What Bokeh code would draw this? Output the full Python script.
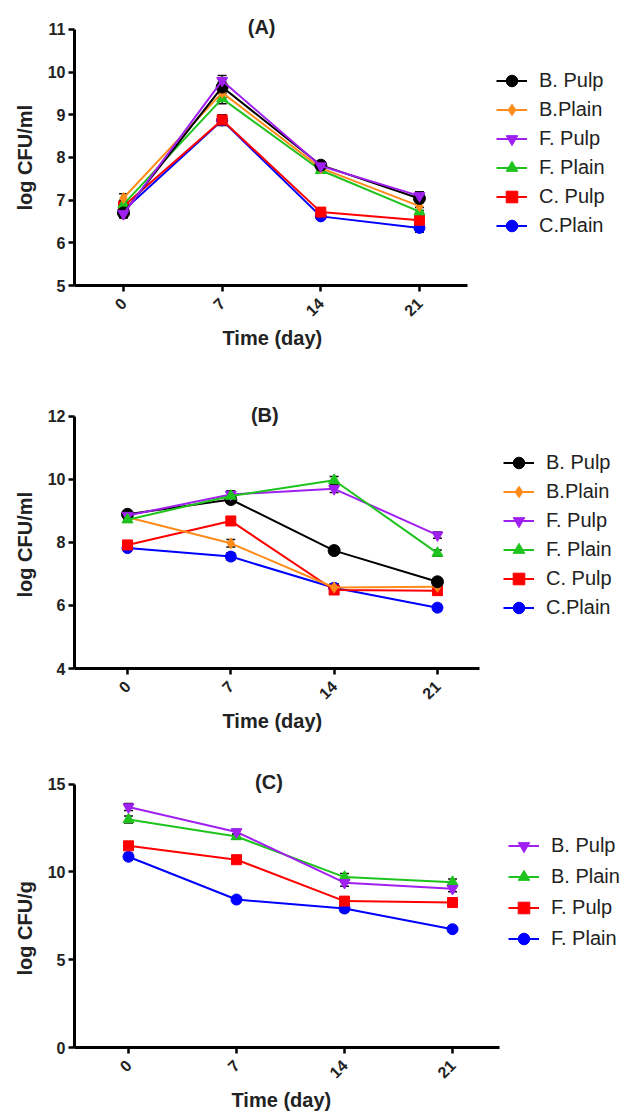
from math import pi
from bokeh.plotting import figure
from bokeh.models import (Range1d, FixedTicker, Legend, LegendItem, Label, Title,
                          Whisker, ColumnDataSource, TeeHead)
from bokeh.layouts import column
from bokeh.embed import file_html
from bokeh.resources import INLINE

days = [0, 7, 14, 21]

# ---------- Panel A data ----------
a_b_pulp = [6.70, 9.65, 7.82, 7.04]
a_b_plain = [7.05, 9.52, 7.75, 6.86]
a_f_pulp = [6.68, 9.80, 7.80, 7.10]
a_f_plain = [6.90, 9.38, 7.70, 6.73]
a_c_pulp = [6.86, 8.88, 6.72, 6.53]
a_c_plain = [6.76, 8.87, 6.62, 6.35]
a_err = [0.10, 0.12, 0.06, 0.10]

# ---------- Panel B data ----------
b_b_pulp = [8.89, 9.36, 7.74, 6.75]
b_b_plain = [8.80, 7.97, 6.57, 6.59]
b_f_pulp = [8.85, 9.52, 9.70, 8.23]
b_f_plain = [8.72, 9.47, 9.97, 7.66]
b_c_pulp = [7.92, 8.68, 6.49, 6.47]
b_c_plain = [7.82, 7.55, 6.56, 5.93]
b_err = [0.08, 0.12, 0.12, 0.10]

# ---------- Panel C data ----------
c_b_pulp = [13.70, 12.28, 9.39, 9.05]
c_b_plain = [12.99, 12.02, 9.71, 9.42]
c_f_pulp = [11.49, 10.70, 8.34, 8.26]
c_f_plain = [10.87, 8.43, 7.92, 6.74]
c_err = [0.20, 0.15, 0.20, 0.18]

FONT = "Liberation Sans"
LEFT = 74
WIDTH = 626
RIGHT = 1


def make_fig(height, top, bottom, xr, xbound_end, yr, ybounds, yticks,
             ylabel, ylabel_offset, xlabel_offset):
    p = figure(width=WIDTH, height=height, min_border_left=LEFT, min_border_right=RIGHT,
               min_border_top=top, min_border_bottom=bottom,
               x_range=Range1d(*xr), y_range=Range1d(*yr),
               output_backend="svg", toolbar_location=None)
    p.grid.visible = False
    p.outline_line_color = None
    p.background_fill_color = "white"
    p.border_fill_color = "white"
    p.xaxis.ticker = FixedTicker(ticks=days)
    p.yaxis.ticker = FixedTicker(ticks=yticks)
    p.xaxis.bounds = (xr[0], xbound_end)
    p.yaxis.bounds = ybounds
    p.xaxis.major_label_orientation = pi / 4
    for ax in (p.xaxis[0], p.yaxis[0]):
        ax.axis_line_width = 3
        ax.axis_line_color = "black"
        ax.major_tick_line_width = 2.5
        ax.major_tick_line_color = "black"
        ax.major_tick_in = 0
        ax.major_tick_out = 6
        ax.minor_tick_line_color = None
        ax.major_label_text_font = FONT
        ax.major_label_text_font_style = "bold"
        ax.major_label_text_font_size = "16px"
        ax.major_label_text_color = "#222222"
    p.xaxis.major_label_standoff = 9
    p.yaxis.major_label_standoff = 3
    p.add_layout(Title(text="Time (day)", align="left", offset=xlabel_offset,
                       vertical_align="top", standoff=4, text_font=FONT,
                       text_font_style="bold", text_font_size="20px",
                       text_color="#222222"), "below")
    p.add_layout(Title(text=ylabel, align="left", offset=ylabel_offset,
                       standoff=18, text_font=FONT,
                       text_font_style="bold", text_font_size="20px",
                       text_color="#222222"), "left")
    return p


def add_series(p, ys, err, color, marker, size):
    src = ColumnDataSource(dict(x=days, y=ys,
                                upper=[v + e for v, e in zip(ys, err)],
                                lower=[v - e for v, e in zip(ys, err)]))
    lr = p.line("x", "y", source=src, line_color=color, line_width=2)
    sr = p.scatter("x", "y", source=src, marker=marker, size=size,
                   fill_color=color, line_color=color)
    w = Whisker(base="x", upper="upper", lower="lower", source=src,
                line_color="#111111", line_width=1.5,
                upper_head=TeeHead(size=9, line_color="#111111", line_width=1.5),
                lower_head=TeeHead(size=9, line_color="#111111", line_width=1.5))
    p.add_layout(w)
    return lr, sr


def add_legend(p, items, loc, spacing):
    lg = Legend(items=items, location=loc, padding=0, margin=0, spacing=spacing,
                label_height=20, glyph_height=29, glyph_width=31, label_standoff=12,
                label_text_font=FONT, label_text_font_size="20px",
                label_text_color="#222222", background_fill_alpha=0,
                border_line_color=None)
    p.add_layout(lg)


def add_title(p, x, y, txt):
    p.add_layout(Label(x=x, y=y, text=txt, text_font=FONT, text_font_style="bold",
                       text_font_size="20px", text_align="center",
                       text_baseline="middle", text_color="#222222"))


COLORS = dict(black="black", orange="#ff8c1a", purple="#a020f0",
              green="#1ec31e", red="#ff0000", blue="#0000ff")

# ---------- Figure A ----------
pA = make_fig(360, 10, 75, (-3.476, 35.62), 24.41, (5, 11.445), (5, 11),
              [5, 6, 7, 8, 9, 10, 11], "log CFU/ml", 75, 148)
rA = {}
rA["C.Plain"] = add_series(pA, a_c_plain, a_err, COLORS["blue"], "circle", 11)
rA["C. Pulp"] = add_series(pA, a_c_pulp, a_err, COLORS["red"], "square", 10)
rA["F. Plain"] = add_series(pA, a_f_plain, a_err, COLORS["green"], "triangle", 11)
rA["B.Plain"] = add_series(pA, a_b_plain, a_err, COLORS["orange"], "diamond", 11)
rA["B. Pulp"] = add_series(pA, a_b_pulp, a_err, COLORS["black"], "circle", 12)
rA["F. Pulp"] = add_series(pA, a_f_pulp, a_err, COLORS["purple"], "inverted_triangle", 11)
orderA = ["B. Pulp", "B.Plain", "F. Pulp", "F. Plain", "C. Pulp", "C.Plain"]
add_legend(pA, [LegendItem(label=n, renderers=list(rA[n])) for n in orderA], (422, 45), 0)
add_title(pA, 9.8, 11.05, "(A)")

# ---------- Figure B ----------
pB = make_fig(375, 35, 64, (-3.59, 33.74), 23.85, (4, 12.659), (4, 12),
              [4, 6, 8, 10, 12], "log CFU/ml", 71, 148)
rB = {}
rB["C.Plain"] = add_series(pB, b_c_plain, b_err, COLORS["blue"], "circle", 11)
rB["C. Pulp"] = add_series(pB, b_c_pulp, b_err, COLORS["red"], "square", 10)
rB["B.Plain"] = add_series(pB, b_b_plain, b_err, COLORS["orange"], "diamond", 11)
rB["B. Pulp"] = add_series(pB, b_b_pulp, b_err, COLORS["black"], "circle", 12)
rB["F. Pulp"] = add_series(pB, b_f_pulp, b_err, COLORS["purple"], "inverted_triangle", 11)
rB["F. Plain"] = add_series(pB, b_f_plain, b_err, COLORS["green"], "triangle", 11)
add_legend(pB, [LegendItem(label=n, renderers=list(rB[n])) for n in orderA], (429, 46), 0)
add_title(pB, 9.3, 12.05, "(B)")

# ---------- Figure C ----------
pC = make_fig(379, 30, 63, (-3.50, 32.21), 24.05, (0, 16.067), (0, 15),
              [0, 5, 10, 15], "log CFU/g", 72, 157)
rC = {}
rC["F. Plain"] = add_series(pC, c_f_plain, c_err, COLORS["blue"], "circle", 11)
rC["F. Pulp"] = add_series(pC, c_f_pulp, c_err, COLORS["red"], "square", 10)
rC["B. Plain"] = add_series(pC, c_b_plain, c_err, COLORS["green"], "triangle", 11)
rC["B. Pulp"] = add_series(pC, c_b_pulp, c_err, COLORS["purple"], "inverted_triangle", 11)
orderC = ["B. Pulp", "B. Plain", "F. Pulp", "F. Plain"]
add_legend(pC, [LegendItem(label=n, renderers=list(rC[n])) for n in orderC], (434, 94), 2)
add_title(pC, 9.1, 15.1, "(C)")

layout = column(pA, pB, pC, spacing=0)
open("out.html", "w").write(file_html(layout, INLINE))
